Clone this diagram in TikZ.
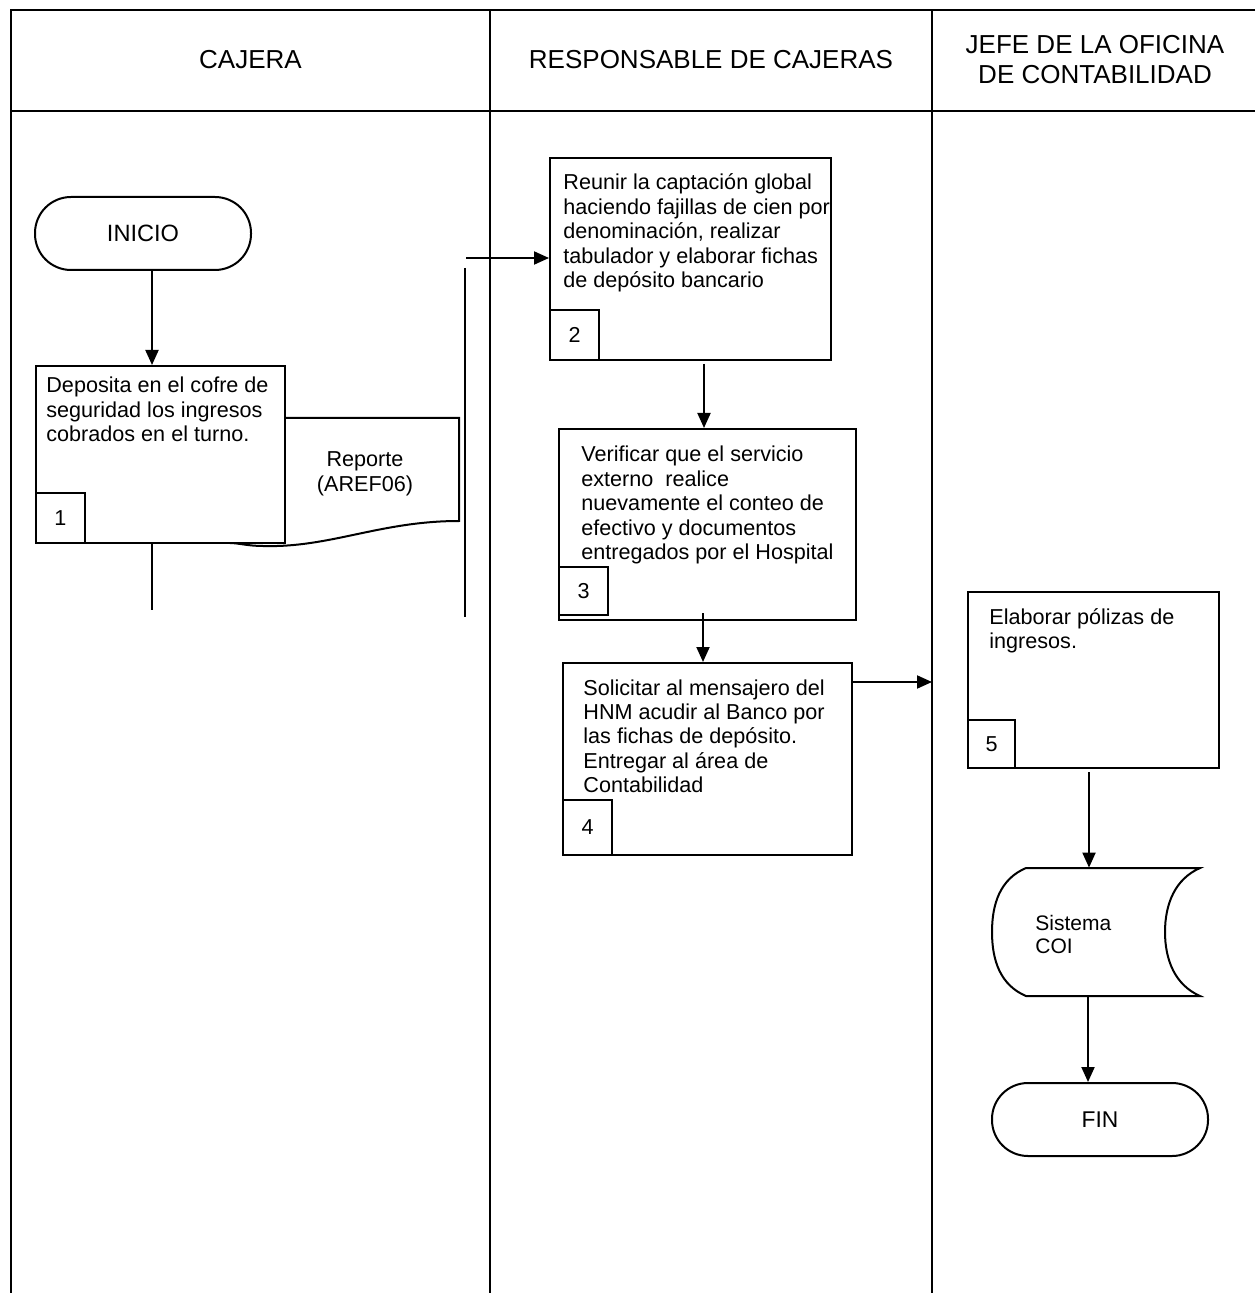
\documentclass[tikz,border=0pt]{standalone}
\usepackage{fontspec}
\setmainfont{Liberation Sans}
\usetikzlibrary{arrows.meta}
\begin{document}
\begin{tikzpicture}[x=0.5pt,y=-0.5pt,
 frame/.style={line width=1.3pt},
 box/.style={draw,line width=1pt,fill=white,rectangle,inner sep=0pt},
 numbox/.style={draw,line width=1pt,fill=white,minimum width=24.5pt,minimum height=25pt,inner sep=0pt,anchor=south west,font=\fontsize{10.8}{12}\selectfont},
 txt/.style={anchor=base west,align=left,inner sep=0pt,font=\fontsize{10.8}{12.2}\selectfont},
 term/.style={draw,line width=1pt,rounded corners=18pt,minimum width=108pt,minimum height=36.5pt,font=\fontsize{11.8}{14}\selectfont},
 hdr/.style={font=\fontsize{13}{15}\selectfont,align=center},
 arr/.style={line width=1pt,-{Triangle[length=7.5pt,width=6.5pt]}},
 ln/.style={line width=1pt}]

\useasboundingbox (0,0) rectangle (1255,1293);
% frame
\draw[frame] (1255,10) -- (11,10) -- (11,1293);
\draw[frame] (11,111) -- (1255,111);
\draw[frame] (490,10) -- (490,1293);
\draw[frame] (932,10) -- (932,1293);

% headers
\node[hdr] (h1) at (250.5,60) {CAJERA};
\node[hdr] (h2) at (711,60) {RESPONSABLE DE CAJERAS};
\node[hdr] (h3) at (1095,60) {JEFE DE LA OFICINA\\DE CONTABILIDAD};

% start
\node[term] (inicio) at (143,233.5) {INICIO};

% document shape (behind box 1)
\draw[ln,fill=white] (280,418) -- (459,418) -- (459,521)
  .. controls (380,521) and (330,548) .. (263,546)
  .. controls (248,546) and (238,543) .. (230,543);
\node[font=\fontsize{10.8}{12.3}\selectfont,align=center] (rep) at (365,474) {Reporte\\(AREF06)};

% box 1
\node[box,minimum width=124.5pt,minimum height=88.5pt] (b1) at (160.5,454.5) {};
\node[numbox] (n1) at (b1.south west) {1};
\node[txt] (t1) at (46,441.8) {Deposita en el cofre de\\seguridad los ingresos\\cobrados en el turno.};

% box 2
\node[box,minimum width=140.5pt,minimum height=101pt] (b2) at (690.5,259) {};
\node[numbox] (n2) at (b2.south west) {2};
\node[txt] (t2) at (563,287.6) {Reunir la captación global\\haciendo fajillas de cien por\\denominación, realizar\\tabulador y elaborar fichas\\de depósito bancario};

% box 3
\node[box,minimum width=148.5pt,minimum height=95.5pt] (b3) at (707.5,524.5) {};
\node[numbox,minimum height=24pt] (n3) at ([yshift=2.5pt]b3.south west) {3};
\node[txt] (t3) at (581,559.6) {Verificar que el servicio\\externo\ \ realice\\nuevamente el conteo de\\efectivo y documentos\\entregados por el Hospital};

% box 4
\node[box,minimum width=144.5pt,minimum height=96pt] (b4) at (707.5,759) {};
\node[numbox,minimum height=27.5pt] (n4) at (b4.south west) {4};
\node[txt] (t4) at (583,792.6) {Solicitar al mensajero del\\HNM acudir al Banco por\\las fichas de depósito.\\Entregar al área de\\Contabilidad};

% box 5
\node[box,minimum width=125.5pt,minimum height=88pt] (b5) at (1093.5,680) {};
\node[numbox,minimum height=24pt,minimum width=23.5pt] (n5) at (b5.south west) {5};
\node[txt] (t5) at (989,648.4) {Elaborar pólizas de\\ingresos.};

% stored data
\node[minimum width=104pt,minimum height=64pt,inner sep=0pt] (coi) at (1096,932) {};
\draw[ln] (1026,868) -- (1200,868)
  .. controls (1175,879) and (1165,904) .. (1165,932)
  .. controls (1165,960) and (1175,985) .. (1200,996)
  -- (1026,996)
  .. controls (1000,985) and (992,960) .. (992,932)
  .. controls (992,904) and (1000,879) .. cycle;
\node[anchor=base west,align=left,inner sep=0pt,font=\fontsize{10.5}{11.6}\selectfont] (tcoi) at (1035,953.2) {Sistema\\COI};

% end
\node[term,font=\fontsize{11.4}{14}\selectfont] (fin) at (1100,1119.5) {FIN};

% connectors
\coordinate (a1) at (152,0);
\draw[arr] (inicio.south -| a1) -- (b1.north -| a1);
\coordinate (c1) at (152,610);
\draw[ln] (b1.south -| c1) -- (c1);
\coordinate (v1) at (465,268);
\coordinate (v2) at (465,617);
\draw[ln] (v1) -- (v2);
\coordinate (hs) at (466,258);
\draw[arr] (hs) -- (hs -| b2.west);
\coordinate (a2) at (704,0);
\draw[arr] ([yshift=-1.5pt]b2.south -| a2) -- (b3.north -| a2);
\coordinate (a3) at (703,613);
\draw[arr] (a3) -- (b4.north -| a3);
\coordinate (a4) at (0,682);
\coordinate (lane3) at (932,682);
\draw[arr] (b4.east |- a4) -- (lane3);
\coordinate (a5) at (1089,0);
\draw[arr] ([yshift=-1.5pt]b5.south -| a5) -- (coi.north -| a5);
\coordinate (a6) at (1088,0);
\draw[arr] ([yshift=-0.5pt]coi.south -| a6) -- (fin.north -| a6);
\end{tikzpicture}
\end{document}
